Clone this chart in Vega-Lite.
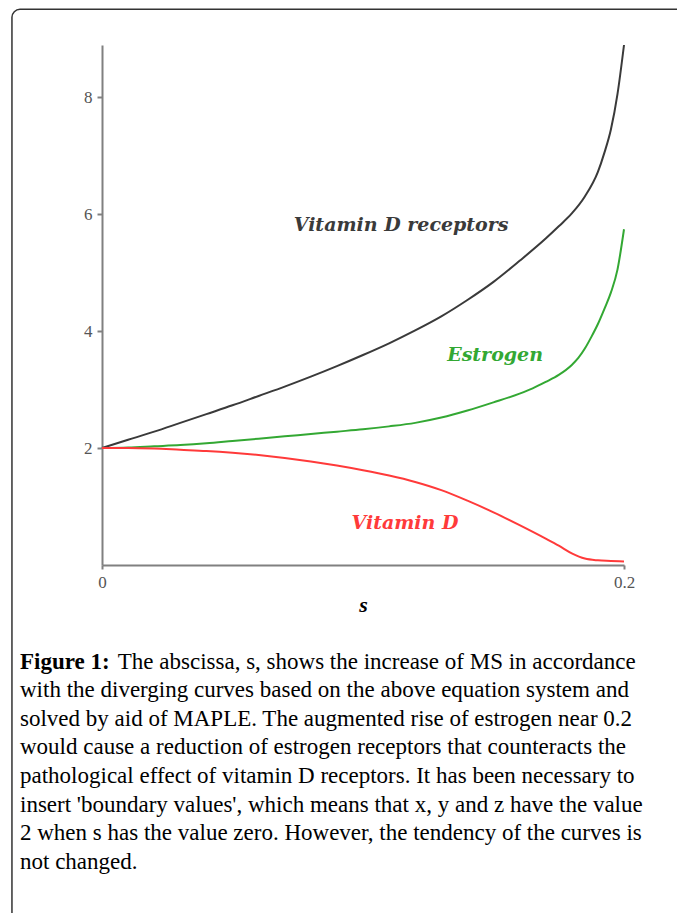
{
  "$schema": "https://vega.github.io/schema/vega-lite/v6.json",
  "autosize": {"type": "none"},
  "width": 522,
  "height": 520,
  "padding": {"left": 102, "top": 45, "right": 53, "bottom": 348},
  "background": "white",
  "config": {"view": {"stroke": null}},
  "title": {
    "text": "Figure 1:",
    "subtitle": [
      "\u200b\u00a0\u00a0\u00a0\u00a0\u00a0\u00a0\u00a0\u00a0\u00a0\u00a0\u00a0\u00a0\u00a0\u00a0\u00a0\u00a0\u00a0The abscissa, s, shows the increase of MS in accordance",
      "with the diverging curves based on the above equation system and",
      "solved by aid of MAPLE. The augmented rise of estrogen near 0.2",
      "would cause a reduction of estrogen receptors that counteracts the",
      "pathological effect of vitamin D receptors. It has been necessary to",
      "insert 'boundary values', which means that x, y and z have the value",
      "2 when s has the value zero. However, the tendency of the curves is",
      "not changed."
    ],
    "orient": "bottom",
    "anchor": "start",
    "frame": "group",
    "dx": -82,
    "offset": -272,
    "font": "Liberation Serif",
    "fontSize": 23,
    "fontWeight": "bold",
    "color": "#000000",
    "subtitleFont": "Liberation Serif",
    "subtitleFontSize": 23,
    "subtitleFontWeight": "normal",
    "subtitleColor": "#000000",
    "subtitleLineHeight": 28.6,
    "subtitlePadding": -23
  },
  "datasets": {
    "curves": [
      {"s": 0, "v": 2.00, "series": "Vitamin D receptors"},
      {"s": 0.01, "v": 2.14, "series": "Vitamin D receptors"},
      {"s": 0.02, "v": 2.28, "series": "Vitamin D receptors"},
      {"s": 0.03, "v": 2.43, "series": "Vitamin D receptors"},
      {"s": 0.04, "v": 2.58, "series": "Vitamin D receptors"},
      {"s": 0.05, "v": 2.73, "series": "Vitamin D receptors"},
      {"s": 0.06, "v": 2.89, "series": "Vitamin D receptors"},
      {"s": 0.07, "v": 3.05, "series": "Vitamin D receptors"},
      {"s": 0.08, "v": 3.22, "series": "Vitamin D receptors"},
      {"s": 0.09, "v": 3.40, "series": "Vitamin D receptors"},
      {"s": 0.10, "v": 3.59, "series": "Vitamin D receptors"},
      {"s": 0.11, "v": 3.79, "series": "Vitamin D receptors"},
      {"s": 0.12, "v": 4.01, "series": "Vitamin D receptors"},
      {"s": 0.13, "v": 4.25, "series": "Vitamin D receptors"},
      {"s": 0.14, "v": 4.53, "series": "Vitamin D receptors"},
      {"s": 0.15, "v": 4.84, "series": "Vitamin D receptors"},
      {"s": 0.16, "v": 5.20, "series": "Vitamin D receptors"},
      {"s": 0.17, "v": 5.58, "series": "Vitamin D receptors"},
      {"s": 0.175, "v": 5.79, "series": "Vitamin D receptors"},
      {"s": 0.18, "v": 6.01, "series": "Vitamin D receptors"},
      {"s": 0.185, "v": 6.30, "series": "Vitamin D receptors"},
      {"s": 0.19, "v": 6.72, "series": "Vitamin D receptors"},
      {"s": 0.1925, "v": 7.05, "series": "Vitamin D receptors"},
      {"s": 0.195, "v": 7.45, "series": "Vitamin D receptors"},
      {"s": 0.1975, "v": 8.05, "series": "Vitamin D receptors"},
      {"s": 0.2, "v": 8.89, "series": "Vitamin D receptors"},
      {"s": 0, "v": 2.00, "series": "Estrogen"},
      {"s": 0.01, "v": 2.01, "series": "Estrogen"},
      {"s": 0.02, "v": 2.03, "series": "Estrogen"},
      {"s": 0.03, "v": 2.05, "series": "Estrogen"},
      {"s": 0.04, "v": 2.08, "series": "Estrogen"},
      {"s": 0.05, "v": 2.12, "series": "Estrogen"},
      {"s": 0.06, "v": 2.16, "series": "Estrogen"},
      {"s": 0.07, "v": 2.20, "series": "Estrogen"},
      {"s": 0.08, "v": 2.24, "series": "Estrogen"},
      {"s": 0.09, "v": 2.28, "series": "Estrogen"},
      {"s": 0.10, "v": 2.32, "series": "Estrogen"},
      {"s": 0.11, "v": 2.37, "series": "Estrogen"},
      {"s": 0.12, "v": 2.43, "series": "Estrogen"},
      {"s": 0.13, "v": 2.52, "series": "Estrogen"},
      {"s": 0.14, "v": 2.64, "series": "Estrogen"},
      {"s": 0.15, "v": 2.78, "series": "Estrogen"},
      {"s": 0.16, "v": 2.93, "series": "Estrogen"},
      {"s": 0.165, "v": 3.02, "series": "Estrogen"},
      {"s": 0.17, "v": 3.13, "series": "Estrogen"},
      {"s": 0.175, "v": 3.25, "series": "Estrogen"},
      {"s": 0.18, "v": 3.42, "series": "Estrogen"},
      {"s": 0.1825, "v": 3.54, "series": "Estrogen"},
      {"s": 0.185, "v": 3.70, "series": "Estrogen"},
      {"s": 0.1875, "v": 3.90, "series": "Estrogen"},
      {"s": 0.19, "v": 4.12, "series": "Estrogen"},
      {"s": 0.1925, "v": 4.38, "series": "Estrogen"},
      {"s": 0.195, "v": 4.66, "series": "Estrogen"},
      {"s": 0.1975, "v": 5.05, "series": "Estrogen"},
      {"s": 0.2, "v": 5.74, "series": "Estrogen"},
      {"s": 0, "v": 2.00, "series": "Vitamin D"},
      {"s": 0.01, "v": 2.00, "series": "Vitamin D"},
      {"s": 0.02, "v": 1.99, "series": "Vitamin D"},
      {"s": 0.03, "v": 1.97, "series": "Vitamin D"},
      {"s": 0.04, "v": 1.95, "series": "Vitamin D"},
      {"s": 0.05, "v": 1.92, "series": "Vitamin D"},
      {"s": 0.06, "v": 1.88, "series": "Vitamin D"},
      {"s": 0.07, "v": 1.83, "series": "Vitamin D"},
      {"s": 0.08, "v": 1.77, "series": "Vitamin D"},
      {"s": 0.09, "v": 1.70, "series": "Vitamin D"},
      {"s": 0.10, "v": 1.62, "series": "Vitamin D"},
      {"s": 0.11, "v": 1.53, "series": "Vitamin D"},
      {"s": 0.12, "v": 1.42, "series": "Vitamin D"},
      {"s": 0.13, "v": 1.28, "series": "Vitamin D"},
      {"s": 0.14, "v": 1.10, "series": "Vitamin D"},
      {"s": 0.15, "v": 0.90, "series": "Vitamin D"},
      {"s": 0.16, "v": 0.68, "series": "Vitamin D"},
      {"s": 0.17, "v": 0.45, "series": "Vitamin D"},
      {"s": 0.175, "v": 0.33, "series": "Vitamin D"},
      {"s": 0.18, "v": 0.20, "series": "Vitamin D"},
      {"s": 0.185, "v": 0.11, "series": "Vitamin D"},
      {"s": 0.19, "v": 0.08, "series": "Vitamin D"},
      {"s": 0.195, "v": 0.07, "series": "Vitamin D"},
      {"s": 0.2, "v": 0.06, "series": "Vitamin D"}
    ],
    "labels": [
      {"s": 0.1146, "v": 5.81, "label": "Vitamin D receptors", "series": "Vitamin D receptors"},
      {"s": 0.1506, "v": 3.59, "label": "Estrogen", "series": "Estrogen"},
      {"s": 0.1161, "v": 0.72, "label": "Vitamin D", "series": "Vitamin D"}
    ]
  },
  "layer": [
    {
      "data": {"values": [{}]},
      "mark": {"type": "rect", "fillOpacity": 0, "stroke": "#333333", "strokeWidth": 1.5, "cornerRadius": 8},
      "encoding": {
        "x": {"datum": -0.0345, "type": "quantitative", "scale": {"domain": [0, 0.2], "nice": false, "zero": false}},
        "x2": {"datum": 0.27},
        "y": {"datum": 9.5, "type": "quantitative", "scale": {"domain": [0, 8.89], "nice": false, "zero": false}},
        "y2": {"datum": -6.1}
      }
    },
    {
      "data": {"name": "curves"},
      "mark": {"type": "line", "strokeWidth": 2, "interpolate": "monotone"},
      "encoding": {
        "x": {
          "field": "s", "type": "quantitative",
          "scale": {"domain": [0, 0.2], "nice": false, "zero": false},
          "axis": {
            "values": [0, 0.2], "format": "~g", "grid": false,
            "domainColor": "#808080", "domainWidth": 2,
            "tickColor": "#808080", "tickWidth": 2, "tickSize": 4,
            "labelFont": "Liberation Serif", "labelFontSize": 17, "labelColor": "#555555",
            "labelPadding": 5, "labelFlush": false,
            "title": "s", "titleFont": "Liberation Serif", "titleFontSize": 22,
            "titleFontStyle": "italic", "titleFontWeight": "bold", "titleColor": "#000000",
            "titlePadding": 4
          }
        },
        "y": {
          "field": "v", "type": "quantitative",
          "scale": {"domain": [0, 8.89], "nice": false, "zero": false},
          "axis": {
            "values": [2, 4, 6, 8], "format": "~g", "grid": false,
            "domainColor": "#808080", "domainWidth": 2,
            "tickColor": "#808080", "tickWidth": 2, "tickSize": 5,
            "labelFont": "Liberation Serif", "labelFontSize": 17, "labelColor": "#555555",
            "labelPadding": 5,
            "title": null
          }
        },
        "color": {
          "field": "series", "type": "nominal",
          "scale": {"domain": ["Vitamin D receptors", "Estrogen", "Vitamin D"], "range": ["#3a3a3a", "#33a833", "#ff3a3a"]},
          "legend": null
        }
      }
    },
    {
      "data": {"name": "labels"},
      "mark": {"type": "text", "font": "DejaVu Serif", "fontSize": 19, "fontStyle": "italic", "fontWeight": "bold", "align": "center", "baseline": "middle"},
      "encoding": {
        "x": {"field": "s", "type": "quantitative"},
        "y": {"field": "v", "type": "quantitative"},
        "text": {"field": "label"},
        "color": {"field": "series", "type": "nominal", "legend": null}
      }
    }
  ]
}
